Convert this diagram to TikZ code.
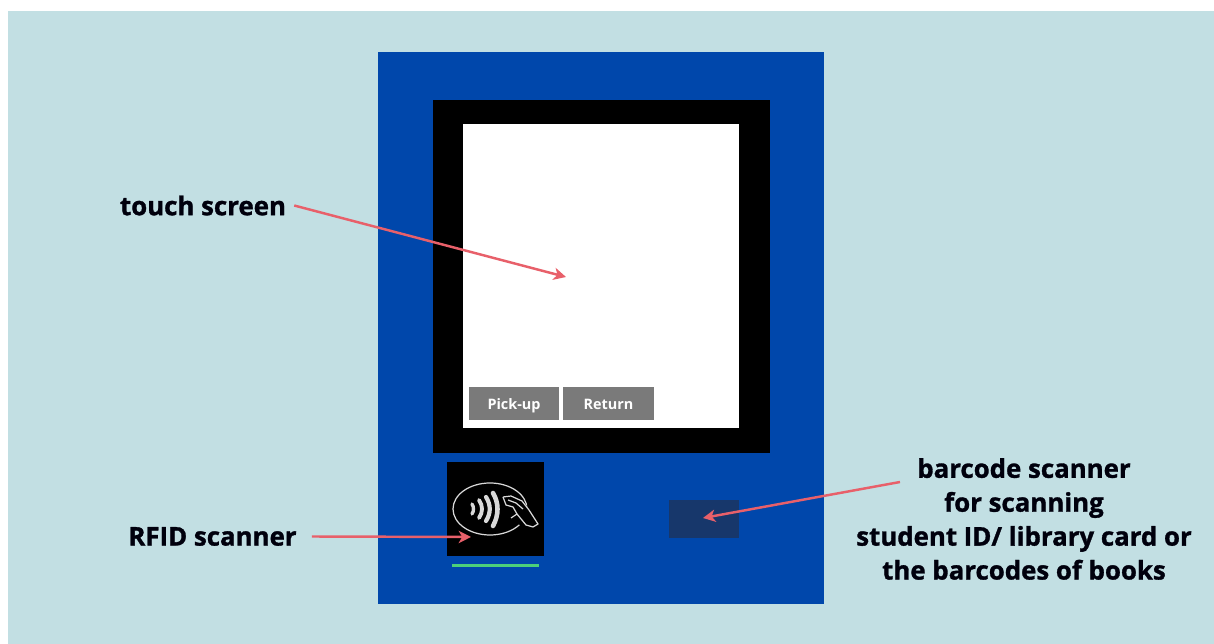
\documentclass[tikz,border=0pt]{standalone}
\usepackage{xcolor}
\usepackage{fontspec}
\setmainfont{Open Sans}
\newfontfamily\heavyfont[FakeBold=1.2]{Open Sans Bold}
\usepackage{tikz}
\usetikzlibrary{arrows.meta, positioning}

\begin{document}
\begin{tikzpicture}[x=0.02cm, y=-0.02cm, font=\bfseries]
  \definecolor{wallblue}{HTML}{C2DFE3}
  \definecolor{kioskblue}{HTML}{0047AB}
  \definecolor{scanblue}{HTML}{17376B}
  \definecolor{pointerred}{HTML}{E8606A}
  \definecolor{buttongray}{HTML}{7A7A7A}
  \definecolor{lightgreen}{HTML}{4CD07A}
  \tikzset{
    labeltext/.style={font=\fontsize{14.7}{19.3}\selectfont\heavyfont, text=black!95!blue, align=center, inner sep=0pt},
    buttonbox/.style={fill=buttongray, text=white, minimum width=51.4pt, minimum height=18.7pt, inner sep=0pt, text height=7.2pt, text depth=0.6pt, font=\fontsize{8.2}{10}\selectfont\bfseries},
    pointer/.style={draw=pointerred, line width=1.4pt, -{Stealth[length=7pt, width=7pt, inset=2pt]}},
    readerline/.style={draw=white!85!black, line width=0.7pt, line join=round}
  }
  \useasboundingbox (0,0) rectangle (1214,644);
  \fill[white] (0,0) rectangle (1214,644);
  \fill[wallblue] (8,11) rectangle (1214,644);

  % kiosk body and screen
  \fill[kioskblue] (378,52) rectangle (824,604);
  \fill[black] (433,100) rectangle (770,453);
  \fill[white] (463,124) rectangle (739,428);
  \node[buttonbox] (pickup) at (514,403.5) {Pick-up};
  \node[buttonbox] (return) at (608.5,403.5) {Return};

  % rfid reader
  \fill[black] (447,462) rectangle (544,556);
  \draw[readerline] (490,509) ellipse (37 and 26);
  \draw[white!85!black, line width=1.9pt, line cap=round] (472,504) .. controls (474,507) and (474,511) .. (472,514);
  \draw[white!85!black, line width=2.2pt, line cap=round] (479,500) .. controls (483,506) and (483,512) .. (479,518);
  \draw[white!85!black, line width=2.4pt, line cap=round] (486,497) .. controls (491,505) and (491,513) .. (486,521);
  \draw[white!85!black, line width=2.6pt, line cap=round] (493,493) .. controls (499,503) and (499,515) .. (493,526);
  \fill[black] (503,497) -- (518,494) -- (540,524) -- (530,530) -- (510,520) -- cycle;
  \draw[readerline]
    (503,497) -- (511,496) -- (522,501) -- (529,510) -- (538,524) -- (533,527)
    (503,497) -- (506,505) -- (513,507) -- (517,514) -- (526,525) -- (533,527)
    (508,500) -- (516,503) -- (523,509) (517,514) -- (511,518);
  \fill[lightgreen] (452,564.5) rectangle (539,567);

  % barcode reader
  \fill[scanblue] (669,500) rectangle (739,538);

  % labels
  \node[labeltext] (touch) at (203,205.5) {touch screen};
  \node[labeltext] (rfid) at (212.5,536.5) {RFID scanner};
  \node[labeltext] (barcode) at (1024,519) {barcode scanner\\for scanning\\student ID/ library card or\\the barcodes of books};
  \coordinate (touchend) at (566,277);
  \coordinate (rfidend) at (471,537);
  \coordinate (barend) at (703,518);
  \coordinate (barstart) at (900,482);

  \draw[pointer] ([xshift=4.5pt]touch.east) -- (touchend);
  \draw[pointer] ([xshift=8.5pt]rfid.east) -- (rfidend);
  \draw[pointer] (barstart) -- (barend);
\end{tikzpicture}
\end{document}
